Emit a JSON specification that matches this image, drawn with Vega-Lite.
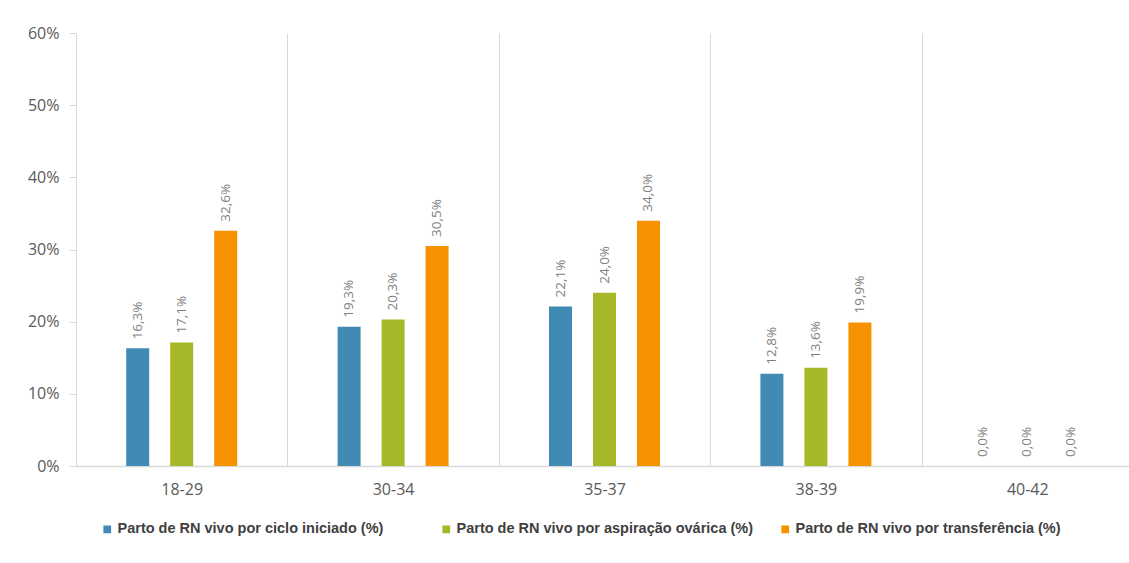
{
  "$schema": "https://vega.github.io/schema/vega-lite/v6.json",
  "width": 1057,
  "height": 433,
  "autosize": "none",
  "padding": {"left": 76, "top": 33, "right": 0, "bottom": 97},
  "background": "white",
  "config": {
    "locale": {"number": {"decimal": ",", "thousands": ".", "grouping": [3], "currency": ["", " €"]}},
    "view": {"stroke": null},
    "font": "Open Sans"
  },
  "data": {
    "values": [
      {"age": "18-29", "serie": "Parto de RN vivo por ciclo iniciado (%)", "value": 0.163},
      {"age": "18-29", "serie": "Parto de RN vivo por aspiração ovárica (%)", "value": 0.171},
      {"age": "18-29", "serie": "Parto de RN vivo por transferência (%)", "value": 0.326},
      {"age": "30-34", "serie": "Parto de RN vivo por ciclo iniciado (%)", "value": 0.193},
      {"age": "30-34", "serie": "Parto de RN vivo por aspiração ovárica (%)", "value": 0.203},
      {"age": "30-34", "serie": "Parto de RN vivo por transferência (%)", "value": 0.305},
      {"age": "35-37", "serie": "Parto de RN vivo por ciclo iniciado (%)", "value": 0.221},
      {"age": "35-37", "serie": "Parto de RN vivo por aspiração ovárica (%)", "value": 0.240},
      {"age": "35-37", "serie": "Parto de RN vivo por transferência (%)", "value": 0.340},
      {"age": "38-39", "serie": "Parto de RN vivo por ciclo iniciado (%)", "value": 0.128},
      {"age": "38-39", "serie": "Parto de RN vivo por aspiração ovárica (%)", "value": 0.136},
      {"age": "38-39", "serie": "Parto de RN vivo por transferência (%)", "value": 0.199},
      {"age": "40-42", "serie": "Parto de RN vivo por ciclo iniciado (%)", "value": 0.0},
      {"age": "40-42", "serie": "Parto de RN vivo por aspiração ovárica (%)", "value": 0.0},
      {"age": "40-42", "serie": "Parto de RN vivo por transferência (%)", "value": 0.0}
    ]
  },
  "encoding": {
    "x": {
      "field": "age", "type": "nominal", "sort": null,
      "scale": {"paddingInner": 0, "paddingOuter": 0},
      "axis": {
        "title": null, "labelAngle": 0, "tickBand": "extent", "grid": true,
        "gridColor": "#d9d9d9", "ticks": false, "domainColor": "#d9d9d9", "domainWidth": 1.5,
        "labelFontSize": 16, "labelColor": "#595959", "labelPadding": 15
      }
    },
    "xOffset": {
      "field": "serie", "type": "nominal", "sort": null,
      "scale": {"paddingInner": 0.195, "paddingOuter": 1}
    },
    "y": {
      "field": "value", "type": "quantitative",
      "scale": {"domain": [0, 0.6]},
      "axis": {
        "title": null, "format": ".0%", "values": [0, 0.1, 0.2, 0.3, 0.4, 0.5, 0.6],
        "grid": false, "domain": false, "tickColor": "#d9d9d9", "tickSize": 7,
        "labelFontSize": 16, "labelColor": "#595959", "labelPadding": 10
      }
    }
  },
  "layer": [
    {
      "mark": {"type": "bar", "width": 23},
      "encoding": {
        "color": {
          "field": "serie", "type": "nominal", "sort": null,
          "scale": {
            "domain": ["Parto de RN vivo por ciclo iniciado (%)", "Parto de RN vivo por aspiração ovárica (%)", "Parto de RN vivo por transferência (%)"],
            "range": ["#418AB3", "#A6B727", "#F69200"]
          },
          "legend": {
            "orient": "none", "legendX": 24, "legendY": 489, "direction": "horizontal",
            "columns": 3, "title": null, "symbolType": "square", "symbolSize": 60,
            "labelFontSize": 14.5, "labelFontWeight": "bold", "labelColor": "#404040", "labelFont": "Liberation Sans",
            "gridAlign": "all", "columnPadding": 24, "labelOffset": 3, "labelLimit": 400
          }
        }
      }
    },
    {
      "mark": {"type": "text", "angle": 270, "align": "left", "baseline": "middle", "dx": 9, "fontSize": 13.5, "color": "#7f7f7f"},
      "encoding": {"text": {"field": "value", "type": "quantitative", "format": ".1%"}}
    }
  ]
}
